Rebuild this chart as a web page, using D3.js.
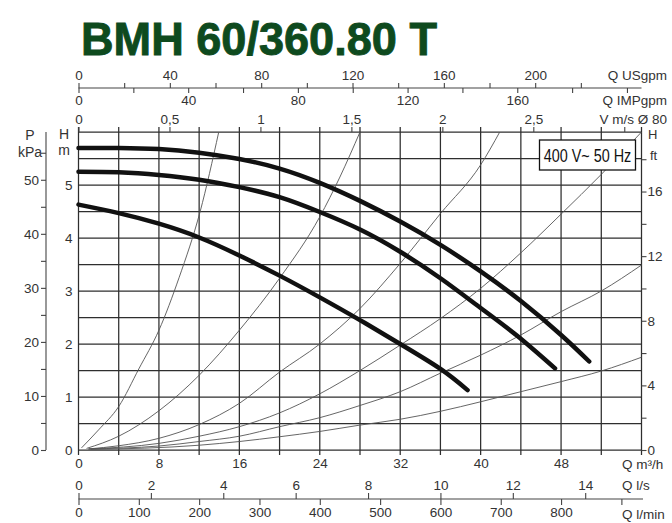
<!DOCTYPE html>
<html>
<head>
<meta charset="utf-8">
<script src="https://cdn.jsdelivr.net/npm/d3@7"></script>
<style>
    body { margin: 0; background: #fff; }
    svg { display: block; font-family: "Liberation Sans Narrow", "Arial Narrow", "Liberation Sans", sans-serif; }
    .tick text { fill: #333; }
</style>
</head>
<body>
<svg width="672" height="523"></svg>
<script>
// ---- data ----
const chartTitle = 'BMH 60/360.80 T';
const supplyLabel = '400 V~ 50 Hz';

// pump curves, [Q m3/h, H m]
const pumpHigh = [[0, 5.70], [4, 5.70], [8, 5.68], [12, 5.61], [16, 5.49], [20, 5.31], [24, 5.04], [28, 4.70], [32, 4.31], [36, 3.87], [40, 3.37], [44, 2.81], [48, 2.17], [50.8, 1.67]];
const pumpMid = [[0, 5.25], [4, 5.24], [8, 5.19], [12, 5.10], [16, 4.96], [20, 4.77], [24, 4.49], [28, 4.16], [32, 3.74], [36, 3.24], [40, 2.68], [43.6, 2.16], [47.4, 1.54]];
const pumpLow = [[0, 4.63], [4, 4.47], [8, 4.27], [12, 4.01], [16, 3.67], [20, 3.29], [24, 2.88], [28, 2.45], [32, 2.00], [36, 1.53], [38.7, 1.13]];

// thin system curves, [Q m3/h, H m]
const system1 = [[0.3, 0.04], [2, 0.38], [4, 0.82], [6, 1.53], [8, 2.26], [10, 3.25], [12.1, 4.50], [13.95, 6.0]];
const system2 = [[0.8, 0.03], [4, 0.26], [8, 0.74], [12, 1.41], [16, 2.26], [20, 3.24], [24, 4.40], [26, 5.15], [28, 6.0]];
const system3 = [[1.0, 0.02], [4, 0.08], [8, 0.22], [12, 0.48], [16, 0.88], [20, 1.47], [24, 2.0], [28, 2.67], [32, 3.52], [36, 4.46], [40, 5.38], [41.9, 6.0]];
const system4 = [[1.0, 0.02], [8, 0.125], [12, 0.26], [16, 0.44], [20, 0.70], [24, 1.06], [28, 1.50], [32, 1.98], [36, 2.48], [40, 3.05], [44, 3.72], [48, 4.45], [52, 5.20], [56, 6.0]];
const system5 = [[1.0, 0.02], [8, 0.075], [12, 0.16], [16, 0.26], [20, 0.44], [24, 0.61], [28, 0.84], [32, 1.10], [36, 1.45], [40, 1.79], [44, 2.17], [48, 2.61], [52, 3.0], [56, 3.49]];
const system6 = [[1.2, 0.01], [12, 0.09], [16, 0.16], [20, 0.25], [24, 0.35], [28, 0.47], [32, 0.58], [36, 0.73], [40, 0.91], [44, 1.10], [48, 1.29], [52, 1.49], [56, 1.75]];

// tick labels of every scale
const qTicks = [0, 8, 16, 24, 32, 40, 48];
const hTicks = [0, 1, 2, 3, 4, 5];
const pTicks = [0, 10, 20, 30, 40, 50];
const ftTicks = [0, 4, 8, 12, 16];
const usTicks = [0, 40, 80, 120, 160, 200];
const impTicks = [0, 40, 80, 120, 160];
const velTicks = [0, 0.5, 1, 1.5, 2, 2.5];
const lsTicks = [0, 2, 4, 6, 8, 10, 12, 14];
const lminTicks = [0, 100, 200, 300, 400, 500, 600, 700, 800];

class PumpChart {
    constructor() {
        this.svg = d3.select('svg');
        this.qMax = 56; // m3/h at right border
        this.hMax = 6;  // m at top border
        this.left = 78.5;
        this.right = 641.5;
        this.top = 132;
        this.bottom = 450;
        this.ink = '#333';
    }

    draw = () => {
        this.setScales();
        this.drawTitle();
        this.drawGrid();
        this.drawTopAxes();
        this.drawBottomAxes();
        this.drawSideAxes();
        this.drawCurves();
        this.drawSupplyBox();
    }

    setScales = () => {
        this.x = d3.scaleLinear().domain([0, this.qMax]).range([this.left, this.right]);
        this.y = d3.scaleLinear().domain([0, this.hMax]).range([this.bottom, this.top]);
        // every other unit is the same range with a converted domain
        const qScale = f => d3.scaleLinear().domain([0, this.qMax / f]).range([this.left, this.right]);
        this.xUS = qScale(0.2271247);
        this.xIMP = qScale(0.2727654);
        this.xVel = qScale(Math.PI * 0.04 * 0.04 * 3600); // Ø 80 pipe
        this.xLs = qScale(3.6);
        this.xLmin = qScale(0.06);
        this.yP = d3.scaleLinear().domain([0, this.hMax * 9.80665]).range([this.bottom, this.top]);
        this.yFt = d3.scaleLinear().domain([0, this.hMax / 0.3048]).range([this.bottom, this.top]);
    }

    drawTitle = () => {
        this.svg.append('text')
            .attr('x', 81).attr('y', 55)
            .attr('textLength', 356).attr('lengthAdjust', 'spacingAndGlyphs')
            .style('font-family', '"Liberation Sans", Arial, sans-serif')
            .style('font-weight', 'bold').style('font-size', '46px')
            .attr('fill', '#0e4a1e')
            .attr('stroke', '#0e4a1e').attr('stroke-width', 0.9)
            .text(chartTitle);
    }

    drawGrid = () => {
        const g = this.svg.append('g').attr('stroke', '#2e2e2e').attr('stroke-width', 1.25);
        // vertical lines every 4 m3/h, poking a little out of the frame
        g.selectAll('.vg').data(d3.range(0, this.qMax + 1, 4)).join('line')
            .attr('x1', d => this.x(d)).attr('x2', d => this.x(d))
            .attr('y1', this.top - 5).attr('y2', this.bottom + 5);
        // horizontal lines every 0.5 m
        g.selectAll('.hg').data(d3.range(0, this.hMax + 0.01, 0.5)).join('line')
            .attr('x1', this.left).attr('x2', this.right)
            .attr('y1', d => this.y(d)).attr('y2', d => this.y(d));
    }

    styleAxis = (sel) => {
        sel.select('.domain').remove();
        sel.selectAll('line').attr('stroke', '#444').attr('stroke-width', 1.1);
        sel.selectAll('text').style('font-size', '13.5px').attr('fill', this.ink);
        // minor ticks carry no label, drop their empty text nodes
        sel.selectAll('text').filter(function () { return this.textContent === ''; }).remove();
    }

    numFmt = d => String(d).replace('.', ',');

    drawTopAxes = () => {
        const lineY = 88;
        this.svg.append('line')
            .attr('x1', this.left).attr('x2', this.right).attr('y1', lineY).attr('y2', lineY)
            .attr('stroke', '#444').attr('stroke-width', 1.1);

        // US gallons above the line
        this.svg.append('g').attr('transform', `translate(0,${lineY})`)
            .call(d3.axisTop(this.xUS).tickValues(d3.range(0, 221, 20)).tickSize(5)
                .tickFormat(d => usTicks.includes(d) ? d : ''))
            .call(this.styleAxis);

        // imperial gallons below it
        this.svg.append('g').attr('transform', `translate(0,${lineY})`)
            .call(d3.axisBottom(this.xIMP).tickValues(d3.range(0, 201, 20)).tickSize(5).tickPadding(2)
                .tickFormat(d => impTicks.includes(d) ? d : ''))
            .call(this.styleAxis);

        // velocity ticks sit on the top border
        this.svg.append('g').attr('transform', `translate(0,${this.top})`)
            .call(d3.axisTop(this.xVel).tickValues(d3.range(0, 3.01, 0.5)).tickSize(5).tickPadding(3)
                .tickFormat(d => velTicks.includes(d) ? this.numFmt(d) : ''))
            .call(this.styleAxis);

        const unit = (txt, y) => this.svg.append('text')
            .attr('x', 667).attr('y', y).attr('text-anchor', 'end')
            .style('font-size', '13.5px').attr('fill', this.ink).text(txt);
        unit('Q USgpm', 80);
        unit('Q IMPgpm', 105);
        unit('V m/s Ø 80', 124);
    }

    drawBottomAxes = () => {
        // m3/h labels under the frame
        this.svg.append('g').attr('transform', `translate(0,${this.bottom})`)
            .call(d3.axisBottom(this.x).tickValues(qTicks).tickSize(0).tickPadding(8)
                .tickFormat(d3.format('d')))
            .call(this.styleAxis);

        const lineY = 499;
        this.svg.append('line')
            .attr('x1', this.left).attr('x2', 643).attr('y1', lineY).attr('y2', lineY)
            .attr('stroke', '#444').attr('stroke-width', 1.1);

        this.svg.append('g').attr('transform', `translate(0,${lineY})`)
            .call(d3.axisTop(this.xLs).tickValues(lsTicks).tickSize(6).tickPadding(3)
                .tickFormat(d3.format('d')))
            .call(this.styleAxis);

        this.svg.append('g').attr('transform', `translate(0,${lineY})`)
            .call(d3.axisBottom(this.xLmin).tickValues(d3.range(0, 901, 100)).tickSize(6).tickPadding(2)
                .tickFormat(d => lminTicks.includes(d) ? d : ''))
            .call(this.styleAxis);

        const unit = (txt, y) => this.svg.append('text')
            .attr('x', 622).attr('y', y)
            .style('font-size', '13.5px').attr('fill', this.ink).text(txt);
        unit('Q m³/h', 469);
        unit('Q l/s', 490);
        unit('Q l/min', 519);
    }

    drawSideAxes = () => {
        // H in metres, labels only
        this.svg.append('g').attr('transform', `translate(${this.left},0)`)
            .call(d3.axisLeft(this.y).tickValues(hTicks).tickSize(0).tickPadding(6)
                .tickFormat(d3.format('d')))
            .call(this.styleAxis);

        // P in kPa on its own line
        const pAxis = this.svg.append('g').attr('transform', 'translate(46,0)')
            .call(d3.axisLeft(this.yP).tickValues(d3.range(0, 56, 5)).tickSize(5).tickPadding(2)
                .tickFormat(d => pTicks.includes(d) ? d : ''))
            .call(this.styleAxis);
        pAxis.append('line').attr('y1', this.top).attr('y2', this.bottom)
            .attr('stroke', '#444').attr('stroke-width', 1.1);

        // H in feet on the right border
        this.svg.append('g').attr('transform', `translate(${this.right},0)`)
            .call(d3.axisRight(this.yFt).tickValues(d3.range(0, 19, 2)).tickSize(5).tickPadding(1)
                .tickFormat(d => ftTicks.includes(d) ? d : ''))
            .call(this.styleAxis);

        const lab = (txt, x, y, anchor, size) => this.svg.append('text')
            .attr('x', x).attr('y', y).attr('text-anchor', anchor)
            .style('font-size', size + 'px').attr('fill', this.ink).text(txt);
        lab('P', 30, 140, 'middle', 14);
        lab('kPa', 30, 157, 'middle', 14);
        lab('H', 64, 139, 'middle', 14);
        lab('m', 64, 155, 'middle', 14);
        lab('H', 648, 139, 'start', 13);
        lab('ft', 650, 160, 'start', 13);
    }

    drawCurves = () => {
        const line = d3.line()
            .x(d => this.x(d[0]))
            .y(d => this.y(d[1]));

        this.svg.append('g').selectAll('path')
            .data([system1, system2, system3, system4, system5, system6]).join('path')
            .attr('d', line.curve(d3.curveMonotoneX)).attr('fill', 'none')
            .attr('stroke', '#555').attr('stroke-width', 0.9);

        this.svg.append('g').selectAll('path')
            .data([pumpHigh, pumpMid, pumpLow]).join('path')
            .attr('d', line.curve(d3.curveNatural)).attr('fill', 'none')
            .attr('stroke', '#111').attr('stroke-width', 4.5)
            .attr('stroke-linecap', 'round');
    }

    drawSupplyBox = () => {
        const g = this.svg.append('g');
        g.append('rect')
            .attr('x', 539.5).attr('y', 140).attr('width', 96).attr('height', 30)
            .attr('fill', '#fff').attr('stroke', '#111').attr('stroke-width', 1.3);
        // squeeze the label sideways so it looks like the narrow original
        g.append('text')
            .attr('transform', 'translate(587.5,161.5) scale(0.8,1)')
            .attr('text-anchor', 'middle')
            .style('font-size', '18px').attr('fill', '#111')
            .text(supplyLabel);
    }
}

const chart = new PumpChart();
chart.draw();
</script>
</body>
</html>
